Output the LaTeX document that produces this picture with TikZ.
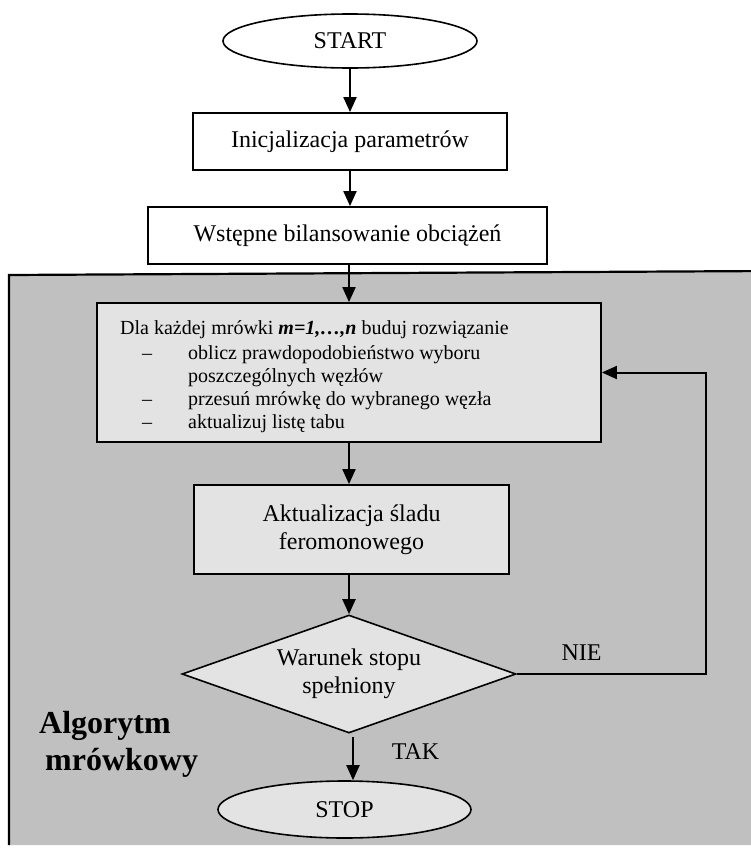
\documentclass[tikz,border=0pt]{standalone}
\usepackage{fontspec}
\setmainfont{Liberation Serif}
\usetikzlibrary{shapes.geometric,arrows.meta}
\definecolor{regiongray}{HTML}{C0C0C0}
\definecolor{boxgray}{HTML}{E3E3E3}
\begin{document}
\begin{tikzpicture}[x=1pt,y=-1pt,
  mainfont/.style={font=\fontsize{24}{28}\selectfont},
  box/.style={draw=black, line width=1.8pt, rectangle, inner sep=0pt, mainfont, align=center},
  oval/.style={draw=black, line width=1.6pt, ellipse, inner sep=0pt, mainfont},
  decision/.style={draw=black, line width=1.6pt, diamond, aspect=2.83, inner sep=0pt, mainfont, align=center, fill=boxgray},
  dlatext/.style={font=\fontsize{20}{23}\selectfont, inner sep=0pt, anchor=base west},
  lbl/.style={mainfont, inner sep=0pt},
  biglbl/.style={font=\fontsize{32}{37}\selectfont\bfseries, inner sep=0pt, anchor=base west},
  arr/.style={line width=2pt, -{Triangle[length=15pt,width=13pt]}}
]
\useasboundingbox (0,0) rectangle (751,854);

% grey region of the ant algorithm
\fill[regiongray] (9,275) -- (770,271) -- (770,845) -- (9,845) -- cycle;
\draw[line width=2.2pt] (9,845) -- (9,275) -- (770,271);

% nodes
\node[oval, fill=white, minimum width=254pt, minimum height=54pt] (start) at (350,41) {START};
\node[box, fill=white, minimum width=314pt, minimum height=57pt] (init) at (350,141.5) {Inicjalizacja parametrów};
\node[box, fill=white, minimum width=399pt, minimum height=57pt] (wst) at (347.5,235.5) {Wstępne bilansowanie obciążeń};
\node[box, fill=boxgray, minimum width=504pt, minimum height=139pt] (dla) at (349,372.5) {};
\node[box, fill=boxgray, minimum width=315pt, minimum height=89pt] (akt) at (351.5,529.5) {Aktualizacja śladu\\feromonowego};
\node[decision, minimum width=334pt, minimum height=118pt] (dec) at (349,674) {Warunek stopu\\spełniony};
\node[oval, fill=boxgray, minimum width=253pt, minimum height=57pt] (stop) at (344.5,809.5) {STOP};

% text of the ant step
\node[dlatext] (d1) at (120,334) {Dla każdej mrówki \textbf{\textit{m=1,…,n}} buduj rozwiązanie};
\node[dlatext] (b1) at (142,359) {–};
\node[dlatext] (d2) at (188,359) {oblicz prawdopodobieństwo wyboru};
\node[dlatext] (d3) at (188,382) {poszczególnych węzłów};
\node[dlatext] (b2) at (142,405) {–};
\node[dlatext] (d4) at (188,405) {przesuń mrówkę do wybranego węzła};
\node[dlatext] (b3) at (142,428) {–};
\node[dlatext] (d5) at (188,428) {aktualizuj listę tabu};

% labels
\node[lbl] (nie) at (581.5,652.5) {NIE};
\node[lbl] (tak) at (415.5,751.5) {TAK};
\node[biglbl] (alg1) at (39,733) {Algorytm};
\node[biglbl] (alg2) at (45,770) {mrówkowy};

% connectors
\coordinate (loop) at (706,674);
\draw[arr] (start.south) -- (start.south |- init.north);
\draw[arr] (init.south) -- (init.south |- wst.north);
\draw[arr] (dla.north |- wst.south) -- (dla.north);
\draw[arr] (dla.south) -- (dla.south |- akt.north);
\draw[arr] (dec.north |- akt.south) -- (dec.north);
\draw[arr] ([xshift=4pt,yshift=-3pt]dec.south) -- ([xshift=8.5pt]stop.north);
\draw[arr] (dec.east) -- (loop) |- (dla.east);
\end{tikzpicture}
\end{document}
